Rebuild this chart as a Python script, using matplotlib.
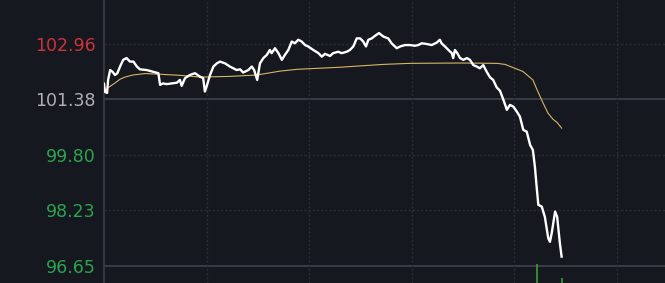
import matplotlib
matplotlib.use("Agg")
import matplotlib.pyplot as plt

# intraday minutes since open and last price (white line)
t_price = [0, 0.3, 0.9, 1.2, 1.8, 2.5, 3.2, 3.9, 4.7, 5.6, 6.6, 7.6, 8.6, 9.6, 10.5,
           12.5, 14.4, 15.9, 16.4, 17.3, 18.3, 19.8, 21.3, 22.2, 22.7, 23.7, 25.1,
           26.6, 28.1, 29.0, 29.5, 30.0, 31.0, 32.0, 33.0, 33.9, 35.4, 36.8, 37.8,
           38.8, 39.8, 40.7, 42.2, 43.2, 43.9, 44.8, 45.6, 46.6, 47.6, 48.5, 49.0,
           50.0, 51.0, 52.0, 52.9, 53.9, 54.9, 55.8, 56.8, 57.8, 58.8, 59.7, 61.2,
           62.7, 63.7, 64.6, 66.1, 67.0, 68.5, 69.5, 71.0, 71.9, 72.9, 73.9, 74.9,
           75.8, 76.6, 77.3, 78.3, 79.2, 80.4, 81.7, 83.1, 84.1, 85.6, 86.6, 88.0,
           89.5, 90.9, 91.9, 92.9, 94.4, 95.8, 97.3, 98.2, 98.7, 99.7, 100.7, 101.7,
           102.1, 102.6, 103.3, 104.1, 105.1, 106.1, 107.0, 108.0, 109.0, 109.9,
           110.9, 111.9, 112.9, 113.8, 114.8, 115.8, 116.8, 117.8, 118.7, 119.7,
           120.7, 121.6, 122.6, 123.6, 124.6, 125.4, 126.0, 126.5, 127.0, 128.0,
           128.9, 129.9, 130.4, 130.9, 131.9, 132.5, 133.3, 133.8]
price = [101.82, 101.59, 101.56, 101.93, 102.21, 102.16, 102.07, 102.12, 102.31,
         102.50, 102.55, 102.45, 102.45, 102.31, 102.23, 102.21, 102.16, 102.12,
         101.79, 101.83, 101.81, 101.83, 101.85, 101.93, 101.76, 101.98, 102.07,
         102.12, 102.02, 101.98, 101.60, 101.74, 102.07, 102.31, 102.40, 102.45,
         102.40, 102.31, 102.26, 102.21, 102.23, 102.14, 102.21, 102.31, 102.21,
         101.93, 102.40, 102.55, 102.64, 102.78, 102.69, 102.83, 102.69, 102.50,
         102.64, 102.78, 103.02, 102.97, 103.07, 103.02, 102.92, 102.88, 102.78,
         102.69, 102.59, 102.67, 102.61, 102.69, 102.73, 102.69, 102.73, 102.78,
         102.88, 103.11, 103.11, 103.02, 102.88, 103.07, 103.11, 103.18, 103.26,
         103.16, 103.11, 102.97, 102.83, 102.88, 102.92, 102.92, 102.90, 102.92,
         102.97, 102.95, 102.92, 102.99, 103.07, 102.97, 102.88, 102.78, 102.69,
         102.55, 102.78, 102.69, 102.55, 102.50, 102.55, 102.50, 102.35, 102.31,
         102.26, 102.35, 102.16, 102.00, 101.93, 101.72, 101.62, 101.36, 101.08,
         101.22, 101.17, 101.03, 100.89, 100.51, 100.46, 100.08, 99.94, 99.46,
         98.90, 98.38, 98.33, 98.04, 97.43, 97.33, 97.57, 98.19, 98.04, 97.29, 96.91]

# average price (orange line)
t_avg = [0, 0.9, 3.2, 4.7, 6.1, 8.5, 12.0, 16.4, 22.2, 28.1, 36.8, 44.7, 51.5, 56.4,
         69.0, 81.6, 89.5, 104.1, 114.9, 117.3, 119.6, 122.5, 125.4, 126.9, 128.4,
         129.8, 131.3, 132.5, 133.8]
avg = [101.62, 101.69, 101.84, 101.95, 102.01, 102.07, 102.11, 102.09, 102.06,
       102.01, 102.03, 102.07, 102.18, 102.23, 102.29, 102.37, 102.40, 102.41,
       102.40, 102.37, 102.28, 102.17, 101.93, 101.59, 101.27, 100.99, 100.81,
       100.72, 100.56]

# volume bars peeking from the lower panel (tops, price scale)
t_vol = [126.6, 133.9]
vol_top = [96.70, 96.30]

tick_vals = [102.96, 101.38, 99.80, 98.23, 96.65]
tick_labels = ["102.96", "101.38", "99.80", "98.23", "96.65"]
tick_colors = ["#d0323c", "#b0b0b4", "#2ca44e", "#2ca44e", "#2ca44e"]
solid_lines = [101.38, 96.65]
grid_minutes = [30, 60, 90, 120, 150]

bg = "#15181f"
fig = plt.figure(figsize=(6.65, 2.83), dpi=100, facecolor=bg)
ax = fig.add_axes([104 / 665, 0, 561 / 665, 1])
ax.set_facecolor(bg)

ax.set_xlim(0, 561 * 0.2924)
ax.set_ylim(96.16, 104.20)

for v in tick_vals:
    if v in solid_lines:
        ax.axhline(v, color="#383c45", lw=1.4, zorder=1)
    else:
        ax.axhline(v, color="#2a2e36", lw=1.0, ls=(0, (1.5, 1.5)), zorder=1)
for m in grid_minutes:
    ax.axvline(m, color="#2a2e36", lw=1.0, ls=(0, (1.5, 1.5)), zorder=1)

ax.vlines(t_vol, 96.16, vol_top, color="#3d9a3a", lw=1.2, zorder=2)

ax.plot(t_avg, avg, color="#d9b468", lw=0.8, zorder=3)
ax.plot(t_price, price, color="white", lw=1.7, zorder=4)

ax.set_yticks(tick_vals)
ax.set_yticklabels(tick_labels, fontsize=12.5)
for lab, c in zip(ax.get_yticklabels(), tick_colors):
    lab.set_color(c)
ax.tick_params(axis="y", length=0, pad=6)
ax.set_xticks([])

for s in ["top", "right", "bottom"]:
    ax.spines[s].set_visible(False)
ax.spines["left"].set_color("#383c45")
ax.spines["left"].set_linewidth(1.2)

fig.savefig("out.png", dpi=100, facecolor=bg)
